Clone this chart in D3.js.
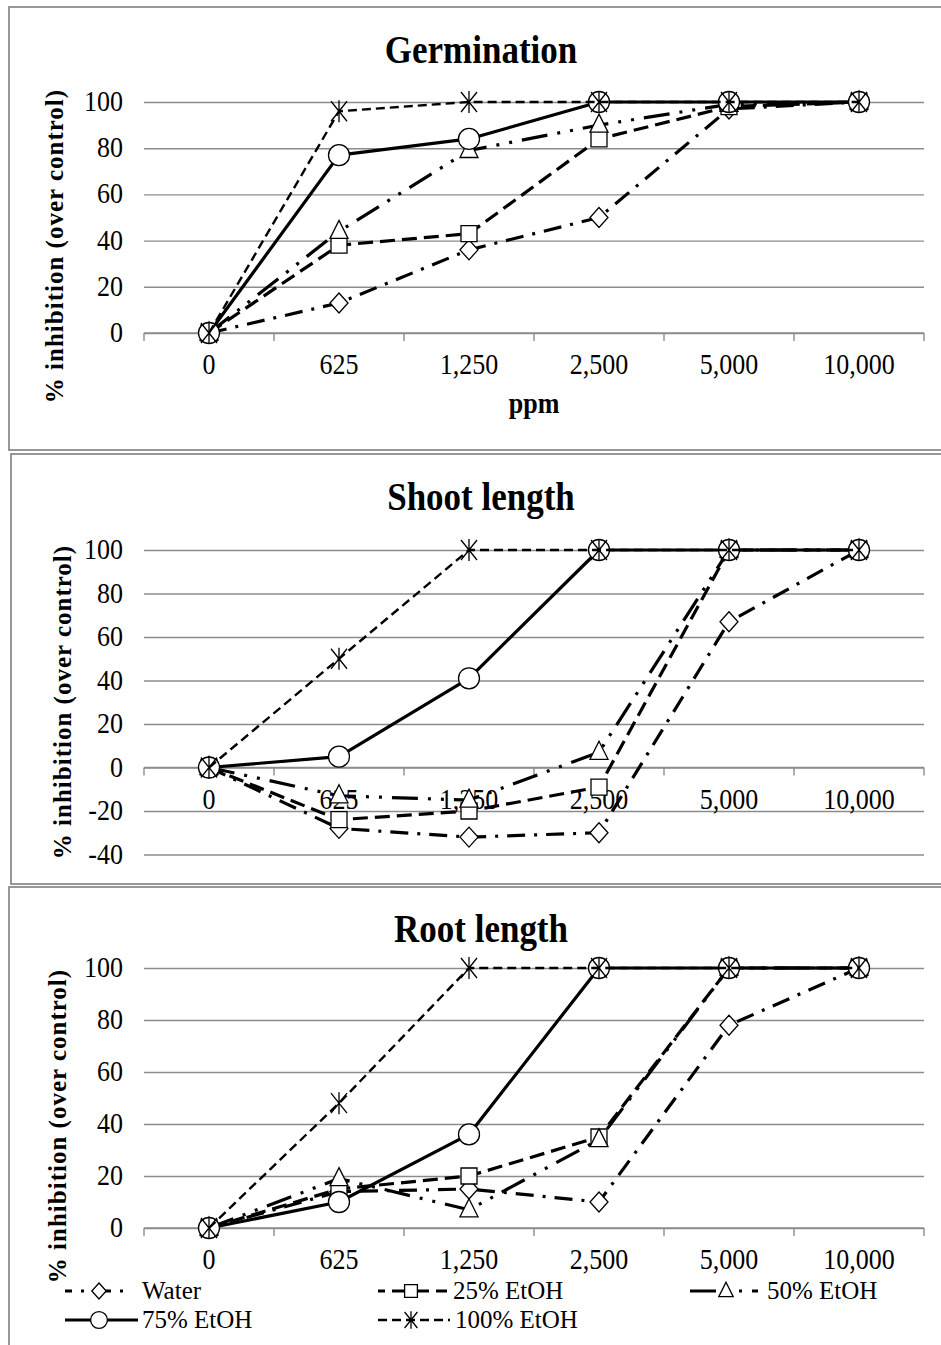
<!DOCTYPE html>
<html><head><meta charset="utf-8">
<script src="https://cdn.jsdelivr.net/npm/d3@7"></script>
<style>body{margin:0;background:#fff}svg{display:block}</style>
</head><body>
<svg id="c" width="941" height="1345"></svg>
<script>
// ---------- DATA ----------
const categories = ["0","625","1,250","2,500","5,000","10,000"];
const seriesNames = ["Water","25% EtOH","50% EtOH","75% EtOH","100% EtOH"];

const germWater = [0,13,36,50,97,100];
const germE25   = [0,38,43,84,98,100];
const germE50   = [0,44,79,90,99,100];
const germE75   = [0,77,84,100,100,100];
const germE100  = [0,96,100,100,100,100];

const shootWater = [0,-28,-32,-30,67,100];
const shootE25   = [0,-24,-20,-9,100,100];
const shootE50   = [0,-13,-15,7,100,100];
const shootE75   = [0,5,41,100,100,100];
const shootE100  = [0,50,100,100,100,100];

const rootWater = [0,14,15,10,78,100];
const rootE25   = [0,15,20,35,100,100];
const rootE50   = [0,19,7,34,100,100];
const rootE75   = [0,10,36,100,100,100];
const rootE100  = [0,48,100,100,100,100];

const yTicksGerm  = [0,20,40,60,80,100];
const yTicksShoot = [-40,-20,0,20,40,60,80,100];
const yTicksRoot  = [0,20,40,60,80,100];

const titles = ["Germination","Shoot length","Root length"];
const yLabel = "% inhibition (over control)";
const xLabel = "ppm";

// ---------- STYLE / LAYOUT ----------
const FONT = "'Liberation Serif','Times New Roman',serif";
const GRID = "#8c8c8c";
const SY = 1.13; // vertical stretch of glyphs as in the reference
const svg = d3.select("#c");

const seriesStyle = [
  {dash:"18,9,3,9", w:3.2, marker:"diamond"},
  {dash:"15,7", w:3.2, marker:"square"},
  {dash:"26,10,3,10,3,10", w:3.2, marker:"triangle"},
  {dash:null, w:3.2, marker:"circle"},
  {dash:"9,5", w:2.4, marker:"asterisk"}
];

const panels = [
  {title:titles[0], series:[germWater,germE25,germE50,germE75,germE100], ticks:yTicksGerm,
   box:[9,7,950,443], yRange:[333,102], titleY:63, yLabelX:54, yLabelY:246, xLabelY:413},
  {title:titles[1], series:[shootWater,shootE25,shootE50,shootE75,shootE100], ticks:yTicksShoot,
   box:[11,454,950,430], yRange:[854.5,550], titleY:510, yLabelX:62, yLabelY:702},
  {title:titles[2], series:[rootWater,rootE25,rootE50,rootE75,rootE100], ticks:yTicksRoot,
   box:[9,887,950,480], yRange:[1228,968], titleY:942, yLabelX:57, yLabelY:1126}
];

const x = d3.scaleBand().domain(categories).range([144,924]);
const xc = c => x(c) + x.bandwidth()/2;

function txt(g, tx, ty, s, size, opts={}){
  const sy = opts.sy || SY;
  const t = g.append("text").attr("transform",`translate(${tx},${ty}) scale(1,${sy})`)
    .attr("font-family",FONT).attr("font-size",size).attr("fill","#000").text(s);
  if(opts.anchor) t.attr("text-anchor",opts.anchor);
  if(opts.bold) t.attr("font-weight","bold");
  return t;
}

function markerPath(type, s=1){
  const p = d3.path();
  if(type==="diamond"){ p.moveTo(0,-10*s); p.lineTo(9*s,0); p.lineTo(0,10*s); p.lineTo(-9*s,0); p.closePath(); }
  else if(type==="square"){ p.rect(-8*s,-8*s,16*s,16*s); }
  else if(type==="triangle"){ p.moveTo(0,-11*s); p.lineTo(9*s,7*s); p.lineTo(-9*s,7*s); p.closePath(); }
  else if(type==="circle"){ p.moveTo(10.5*s,0); p.arc(0,0,10.5*s,0,2*Math.PI); p.closePath(); }
  else if(type==="asterisk"){ p.moveTo(-8*s,-10*s); p.lineTo(8*s,10*s); p.moveTo(8*s,-10*s); p.lineTo(-8*s,10*s); p.moveTo(0,-11*s); p.lineTo(0,11*s); }
  return p.toString();
}
function drawMarker(g, type, cx, cy, s=1){
  g.append("path").attr("d", markerPath(type,s))
   .attr("transform",`translate(${cx},${cy})`)
   .attr("fill", type==="asterisk" ? "none" : "#fff")
   .attr("stroke","#000").attr("stroke-width",1.3);
}

panels.forEach(P => {
  const g = svg.append("g");
  g.append("rect").attr("x",P.box[0]).attr("y",P.box[1]).attr("width",P.box[2]).attr("height",P.box[3])
   .attr("fill","none").attr("stroke",GRID).attr("stroke-width",1.8);

  const y = d3.scaleLinear().domain(d3.extent(P.ticks)).range(P.yRange);

  // gridlines (via d3 axis) + y tick labels
  const ax = g.append("g").attr("transform","translate(144,0)")
    .call(d3.axisLeft(y).tickValues(P.ticks).tickSize(-780).tickPadding(21).tickFormat(d => String(d)));
  ax.select(".domain").remove();
  ax.selectAll(".tick line").attr("stroke",GRID).attr("stroke-width",1.4);
  ax.selectAll(".tick text").remove();
  P.ticks.forEach(v => txt(g, 123, y(v)+9, String(v), 26, {anchor:"end"}));

  // x axis line at 0 + tick marks at band edges
  const y0 = y(0);
  g.append("line").attr("x1",x.range()[0]).attr("x2",x.range()[1]).attr("y1",y0).attr("y2",y0)
   .attr("stroke",GRID).attr("stroke-width",1.4);
  const edges = categories.map(c=>x(c)).concat([x.range()[1]]);
  g.selectAll(".xt").data(edges).enter().append("line")
   .attr("x1",d=>d).attr("x2",d=>d).attr("y1",y0).attr("y2",y0+8)
   .attr("stroke",GRID).attr("stroke-width",1.4);
  categories.forEach(c => txt(g, xc(c), y0+41, c, 26, {anchor:"middle"}));

  // title
  txt(g, 481, P.titleY, P.title, 35, {anchor:"middle", bold:true});
  // y label
  g.append("text").attr("transform",`translate(${P.yLabelX+9},${P.yLabelY}) rotate(-90)`)
   .attr("text-anchor","middle").attr("font-family",FONT).attr("font-size",25)
   .attr("font-weight","bold").attr("letter-spacing",1).text(yLabel);
  if(P.xLabelY) txt(g, 534, P.xLabelY, xLabel, 26, {anchor:"middle", bold:true});

  // series
  const line = d3.line().x((d,i)=>xc(categories[i])).y(d=>y(d));
  P.series.forEach((vals, si) => {
    const st = seriesStyle[si];
    const sg = g.append("g");
    sg.append("path").attr("d", line(vals)).attr("fill","none").attr("stroke","#000")
      .attr("stroke-width",st.w).attr("stroke-dasharray",st.dash).attr("stroke-linejoin","round");
    vals.forEach((v,i)=>drawMarker(sg, st.marker, xc(categories[i]), y(v)));
  });
});

// legend
const legendPos = [
  {x1:65,x2:123,mx:99,tx:142,y:1291,off:11},
  {x1:378,x2:447,mx:411,tx:453,y:1291,off:8},
  {x1:690,x2:758,mx:726,tx:767,y:1291,off:0},
  {x1:65,x2:138,mx:99,tx:142,y:1320,off:0},
  {x1:378,x2:450,mx:411,tx:455,y:1320,off:0}
];
const lg = svg.append("g");
seriesNames.forEach((name,i)=>{
  const p = legendPos[i], st = seriesStyle[i];
  lg.append("line").attr("x1",p.x1).attr("x2",p.x2).attr("y1",p.y).attr("y2",p.y)
    .attr("stroke","#000").attr("stroke-width",st.w).attr("stroke-dasharray",st.dash)
    .attr("stroke-dashoffset",p.off);
  drawMarker(lg, st.marker, p.mx, p.y, 0.8);
  txt(lg, p.tx, p.y+8, name, 25, {sy:1.0});
});
</script>
</body></html>
